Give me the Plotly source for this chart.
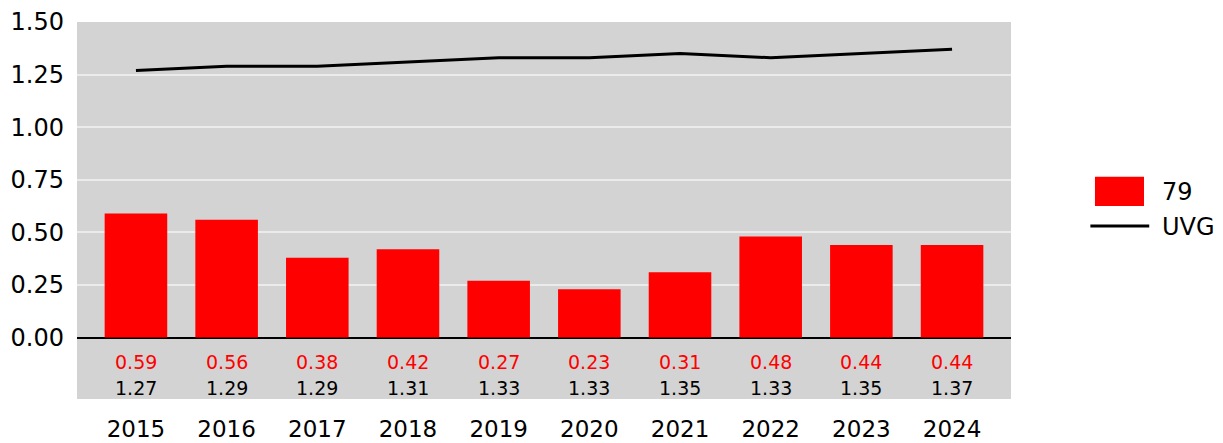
import plotly.graph_objects as go

years = ["2015", "2016", "2017", "2018", "2019", "2020", "2021", "2022", "2023", "2024"]
bar_values = [0.59, 0.56, 0.38, 0.42, 0.27, 0.23, 0.31, 0.48, 0.44, 0.44]
uvg_values = [1.27, 1.29, 1.29, 1.31, 1.33, 1.33, 1.35, 1.33, 1.35, 1.37]
y_ticks = [0.0, 0.25, 0.5, 0.75, 1.0, 1.25, 1.5]
bar_name = "79"
line_name = "UVG"

FONT = "DejaVu Sans, Verdana, sans-serif"
RED = "#ff0000"

fig = go.Figure()
fig.add_trace(go.Bar(x=years, y=bar_values, name=bar_name, marker_color=RED,
                     marker_line_width=0, width=0.69, showlegend=False))
fig.add_trace(go.Scatter(x=years, y=uvg_values, name=line_name, mode="lines",
                         line=dict(color="black", width=3), showlegend=False))

annotations = []
for i, (bv, lv) in enumerate(zip(bar_values, uvg_values)):
    annotations.append(dict(x=i, y=-0.118, xref="x", yref="y", text=f"{bv:.2f}",
                            showarrow=False, font=dict(family=FONT, size=19, color=RED)))
    annotations.append(dict(x=i, y=-0.24, xref="x", yref="y", text=f"{lv:.2f}",
                            showarrow=False, font=dict(family=FONT, size=19, color="black")))

# manual legend (paper coords; plot area spans x 77..1011, y 22..399 on screen)
shapes = [
    dict(type="rect", xref="paper", yref="paper", x0=1.0899, x1=1.1424, y0=0.5897, y1=0.512,
         fillcolor=RED, line=dict(width=0)),
    dict(type="line", xref="paper", yref="paper", x0=1.085, x1=1.148, y0=0.459, y1=0.459,
         line=dict(color="black", width=3)),
]
annotations.append(dict(xref="paper", yref="paper", x=1.1595, y=0.548, xanchor="left",
                        yanchor="middle", text=bar_name, showarrow=False,
                        font=dict(family=FONT, size=24, color="black")))
annotations.append(dict(xref="paper", yref="paper", x=1.1595, y=0.456, xanchor="left",
                        yanchor="middle", text=line_name, showarrow=False,
                        font=dict(family=FONT, size=24, color="black")))

fig.update_layout(
    width=1207, height=443,
    margin=dict(l=69, r=204, t=14, b=52, autoexpand=False),
    paper_bgcolor="white", plot_bgcolor="#d3d3d3",
    font=dict(family=FONT, color="black"),
    annotations=annotations, shapes=shapes,
    xaxis=dict(type="category", range=[-0.65, 9.65], showgrid=False, automargin=False,
               tickfont=dict(size=23), ticks="", ticklabelstandoff=14, zeroline=False),
    yaxis=dict(range=[-0.292, 1.5], tickvals=y_ticks, tickformat=".2f", automargin=False,
               tickfont=dict(size=24), showgrid=True, gridcolor="#ebebeb", gridwidth=2,
               zeroline=True, zerolinecolor="black", zerolinewidth=2, ticks="",
               ticklabelstandoff=12, ticklabeloverflow="allow"),
)

fig.write_html("out.html")
